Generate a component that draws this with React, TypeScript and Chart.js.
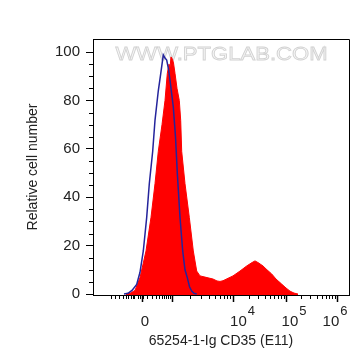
import React, { useEffect, useRef } from 'react';
import { Chart, registerables } from 'chart.js';

Chart.register(...registerables);

// Channel positions (display units of the biexponential axis) and relative counts
const redX = [33, 37, 42, 47, 53, 58, 62, 65.3, 69, 72, 74.3, 76, 77, 78, 79.5, 80.5, 82, 84, 86.3, 87.7, 88.7, 92, 96.3, 100.3, 103.7, 107, 112, 117, 120, 124, 127, 130, 135, 140, 147, 153.7, 159, 162, 165, 170, 174, 178.7, 183, 188.7, 193, 197, 201, 205];
const redY = [0, 0.3, 1.5, 6.8, 17.8, 31.7, 45.6, 59, 70, 80, 91.2, 95, 93.5, 98, 97, 95.5, 91.2, 85, 80, 71.8, 59, 45.6, 31.7, 17.8, 9.5, 7.5, 7.0, 6.5, 6.2, 5.4, 5.2, 5.5, 6.5, 7.5, 9.5, 11.6, 13, 13.7, 13, 11.6, 10, 8.3, 6.2, 4.1, 2.5, 1.2, 0.4, 0];

const blueX = [31, 35, 39, 43.7, 47, 50.3, 53.7, 56.3, 59.7, 62, 65.3, 67.7, 70.3, 72, 73.7, 75.5, 77, 80.3, 82.5, 84.3, 87, 89.7, 92, 94.3, 96.5, 98.7, 101, 103.7];
const blueY = [0, 0.3, 1.5, 4, 9, 17.8, 31.7, 45.6, 59, 71.8, 84, 91, 98.8, 97.5, 96.7, 93, 88.4, 77.3, 65, 50, 31.7, 17.8, 10, 6.8, 3, 1.2, 0.3, 0];

const yMajorTicks = [0, 20, 40, 60, 80, 100];
const yMinorTicks = [5, 10, 15, 25, 30, 35, 45, 50, 55, 65, 70, 75, 85, 90, 95];

const xMajorTicks = [48.5, 78.7, 140.3, 192.7, 243.7];
const xMinorTicks = [
  17.7, 22, 26.3, 29.7, 32.7, 35.3, 37.7, 39.7, 41.3,
  45, 46.5, 50,
  53.7, 58.7, 62.7, 66, 68.7, 71, 73, 75, 77,
  97.4, 108.1, 115.7, 121.6, 126.5, 130.6, 134.1, 137.2,
  156, 165.3, 171.9, 177, 181.2, 184.8, 187.9, 190.6,
  208.4, 217.3, 223.7, 228.6, 232.7, 236.1, 239.1, 241.7,
];
const xLabelBase = ['0', '10', '10', '10'];
const xLabelExp = ['', '4', '5', '6'];
const xLabelCenter = [52, 149.5, 201, 242];

const X_MIN = 0;
const X_MAX = 256;
const Y_MIN = -0.4;
const Y_MAX = 105.4;

const FONT = '"Liberation Sans", Arial, Helvetica, sans-serif';
const TEXT_COLOR = '#222';

const flowPlugin = {
  id: 'flowAxis',
  beforeDatasetsDraw(chart: any) {
    const { ctx, chartArea: a } = chart;
    ctx.save();
    ctx.font = `19px ${FONT}`;
    const text = 'WWW.PTGLAB.COM';
    const w = ctx.measureText(text).width;
    ctx.translate(a.left + 128.5, 55);
    ctx.scale(212 / w, 1);
    ctx.textAlign = 'center';
    ctx.textBaseline = 'middle';
    ctx.fillStyle = '#f6f6f6';
    ctx.fillText(text, 0, 0);
    ctx.strokeStyle = '#d2d2d2';
    ctx.lineWidth = 0.8;
    ctx.strokeText(text, 0, 0);
    ctx.restore();
  },
  afterDraw(chart: any) {
    const { ctx, chartArea: a, scales } = chart;
    const x = scales.x;
    const y = scales.y;
    ctx.save();
    ctx.strokeStyle = '#000';
    ctx.lineWidth = 1;
    // frame top and right
    ctx.beginPath();
    ctx.moveTo(a.left, a.top + 0.5);
    ctx.lineTo(a.right + 0.5, a.top + 0.5);
    ctx.lineTo(a.right + 0.5, a.bottom + 1);
    ctx.stroke();
    // y minor ticks
    ctx.beginPath();
    for (const v of yMinorTicks) {
      const py = Math.round(y.getPixelForValue(v)) + 0.5;
      ctx.moveTo(a.left - 4, py);
      ctx.lineTo(a.left, py);
    }
    ctx.stroke();
    // x ticks
    ctx.beginPath();
    for (const v of xMinorTicks) {
      const px = Math.round(x.getPixelForValue(v)) + 0.5;
      ctx.moveTo(px, a.bottom);
      ctx.lineTo(px, a.bottom + 4);
    }
    ctx.stroke();
    ctx.lineWidth = 1.5;
    ctx.beginPath();
    for (const v of xMajorTicks) {
      const px = Math.round(x.getPixelForValue(v)) + 0.5;
      ctx.moveTo(px, a.bottom);
      ctx.lineTo(px, a.bottom + 7);
    }
    ctx.stroke();
    // x labels with exponents
    ctx.fillStyle = TEXT_COLOR;
    ctx.textBaseline = 'middle';
    ctx.textAlign = 'left';
    const baseFont = `15px ${FONT}`;
    const expFont = `13px ${FONT}`;
    xLabelBase.forEach((base, i) => {
      const exp = xLabelExp[i];
      ctx.font = baseFont;
      const bw = ctx.measureText(base).width;
      ctx.font = expFont;
      const ew = exp ? ctx.measureText(exp).width + 1 : 0;
      const cx = x.getPixelForValue(xLabelCenter[i]);
      const left = cx - (bw + ew) / 2;
      const by = a.bottom + 27;
      ctx.font = baseFont;
      ctx.fillText(base, left, by);
      if (exp) {
        ctx.font = expFont;
        ctx.fillText(exp, left + bw + 1, by - 11);
      }
    });
    ctx.restore();
  },
};

export default function App() {
  const canvasRef = useRef<HTMLCanvasElement | null>(null);

  useEffect(() => {
    const canvas = canvasRef.current;
    if (!canvas) return;
    const chart = new Chart(canvas, {
      type: 'line',
      data: {
        datasets: [
          {
            label: 'Isotype',
            data: blueX.map((v, i) => ({ x: v, y: blueY[i] })),
            borderColor: '#24249c',
            borderWidth: 1.5,
            pointRadius: 0,
            fill: false,
            tension: 0,
            order: 0,
          },
          {
            label: 'CD35',
            data: redX.map((v, i) => ({ x: v, y: redY[i] })),
            borderColor: '#ff0000',
            backgroundColor: '#ff0000',
            borderWidth: 1,
            pointRadius: 0,
            fill: 'start',
            tension: 0,
            order: 1,
          },
        ],
      },
      options: {
        responsive: false,
        animation: false,
        devicePixelRatio: 1,
        layout: { padding: { top: 39, right: 12, left: 0, bottom: 0 } },
        plugins: {
          legend: { display: false },
          tooltip: { enabled: false },
        },
        scales: {
          x: {
            type: 'linear',
            min: X_MIN,
            max: X_MAX,
            ticks: { display: false },
            grid: { display: false },
            border: { display: true, color: '#000', width: 1 },
            title: {
              display: true,
              text: '65254-1-Ig CD35 (E11)',
              color: TEXT_COLOR,
              font: { family: FONT, size: 14 },
              padding: { top: 0, bottom: 11 },
            },
            afterFit: (scale: any) => {
              scale.height = 66;
            },
          },
          y: {
            type: 'linear',
            min: Y_MIN,
            max: Y_MAX,
            afterBuildTicks: (scale: any) => {
              scale.ticks = yMajorTicks.map((v) => ({ value: v }));
            },
            ticks: {
              color: TEXT_COLOR,
              font: { family: FONT, size: 15 },
              padding: 6,
              autoSkip: false,
              callback: (v: any) => String(v),
            },
            grid: {
              display: true,
              drawOnChartArea: false,
              drawTicks: true,
              tickLength: 7,
              color: '#000',
            },
            border: { display: true, color: '#000', width: 1 },
            title: {
              display: true,
              text: 'Relative cell number',
              color: TEXT_COLOR,
              font: { family: FONT, size: 14 },
              padding: { top: 25, bottom: 0 },
            },
            afterFit: (scale: any) => {
              scale.width = 93;
            },
          },
        },
      },
      plugins: [flowPlugin],
    });
    return () => chart.destroy();
  }, []);

  return (
    <div style={{ position: 'fixed', left: 0, top: 0, width: 361, height: 361, background: '#fff' }}>
      <canvas ref={canvasRef} width={361} height={361} style={{ width: 361, height: 361 }} />
    </div>
  );
}
